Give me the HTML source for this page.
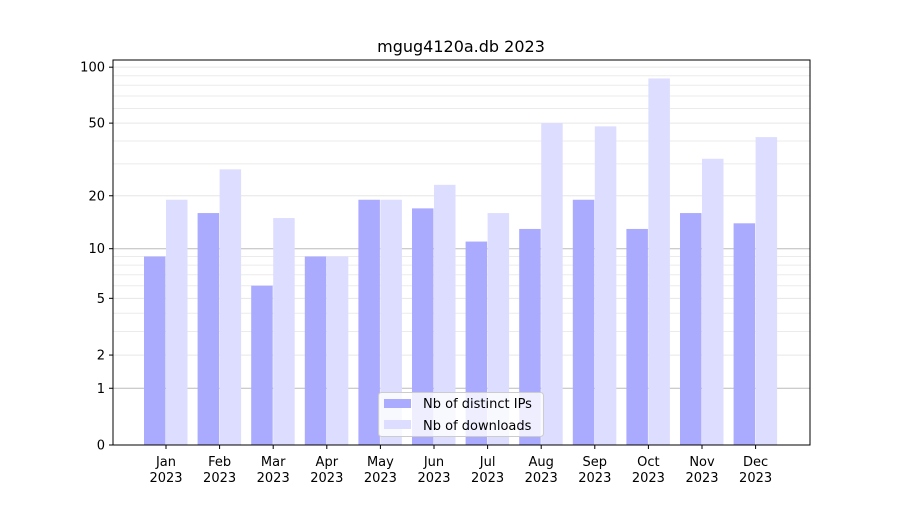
<!DOCTYPE html>
<html><head><meta charset="utf-8"><style>
body{margin:0;background:#fff}
svg text{font-family:"DejaVu Sans","Liberation Sans",sans-serif;fill:#000}
</style></head><body>
<svg id="chart" width="900" height="500">
<text x="461" y="52" font-size="16" text-anchor="middle">mgug4120a.db 2023</text>
<g id="grid"></g><g id="bars"></g><g id="axes"></g>
</svg>
<script>
const months=["Jan","Feb","Mar","Apr","May","Jun","Jul","Aug","Sep","Oct","Nov","Dec"];
const ips=[9,16,6,9,19,17,11,13,19,13,16,14];
const downloads=[19,28,15,9,19,23,16,50,48,87,32,42];
const yTicks=[0,1,2,5,10,20,50,100];
const minorTicks=[3,4,6,7,8,9,30,40,60,70,80,90];
const NS="http://www.w3.org/2000/svg";
const L=113,R=810,T=60,B=445;
function y(v){return B-188.5*Math.log10(1+v);}
function xc(i){return 166+i*53.6;}
function mk(tag,attrs,parent){const e=document.createElementNS(NS,tag);for(const k in attrs)e.setAttribute(k,attrs[k]);parent.appendChild(e);return e;}
const grid=document.getElementById('grid'),bars=document.getElementById('bars'),axes=document.getElementById('axes');
minorTicks.forEach(v=>{const l=mk('line',{x1:L,x2:R,y1:y(v),y2:y(v),stroke:'#ebebeb','stroke-width':1},grid);

});
yTicks.forEach(v=>{const dark=(v===1||v===10);const l=mk('line',{x1:L,x2:R,y1:y(v),y2:y(v),stroke:dark?'#bbbbbb':'#e6e6e6','stroke-width':1},grid);


mk('line',{x1:L-4,x2:L,y1:y(v),y2:y(v),stroke:'#000'},axes);
const t=mk('text',{x:L-8,y:y(v)+4.5,'font-size':13,'text-anchor':'end'},axes);t.textContent=v;

});
months.forEach((m,i)=>{const c=xc(i);
const b1=mk('rect',{x:c-22,y:y(ips[i]),width:21.5,height:B-y(ips[i]),fill:'#aaaaff'},bars);


const b2=mk('rect',{x:c,y:y(downloads[i]),width:21.5,height:B-y(downloads[i]),fill:'#ddddff'},bars);


mk('line',{x1:c,x2:c,y1:B,y2:B+4,stroke:'#000'},axes);
const t=mk('text',{x:c,y:B+21,'font-size':13,'text-anchor':'middle'},axes);t.textContent=m;


const t2=mk('text',{x:c,y:B+37,'font-size':13,'text-anchor':'middle'},axes);t2.textContent='2023';

});
const fr=mk('rect',{x:L,y:T,width:R-L,height:B-T,fill:'none',stroke:'#000','stroke-width':1},axes);


const lg=mk('g',{},axes);


mk('rect',{x:378.5,y:392.5,width:165,height:44,rx:3,fill:'rgba(255,255,255,0.8)',stroke:'#cccccc'},lg);
mk('rect',{x:384,y:399,width:27,height:9,fill:'#aaaaff'},lg);
mk('rect',{x:384,y:420,width:27,height:9,fill:'#ddddff'},lg);
const l1=mk('text',{x:423,y:408,'font-size':13},lg);l1.textContent='Nb of distinct IPs';


const l2=mk('text',{x:423,y:430,'font-size':13},lg);l2.textContent='Nb of downloads';


</script>
</body></html>
